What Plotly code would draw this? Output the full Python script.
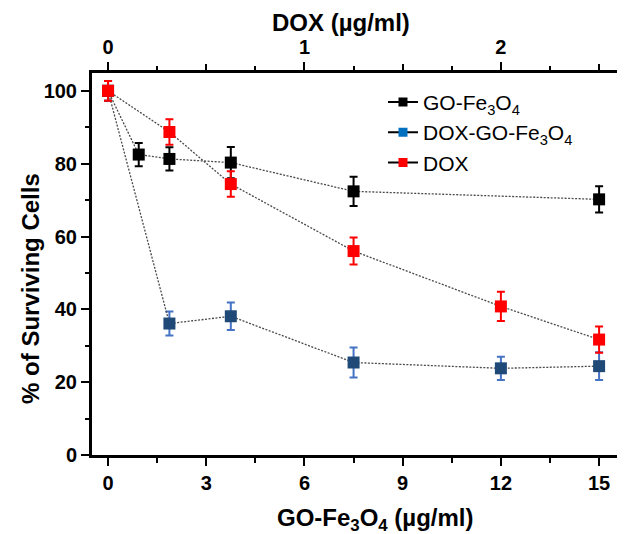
import plotly.graph_objects as go

# GO-Fe3O4 concentrations (µg/ml) and DOX concentrations (µg/ml)
go_conc_black = [0, 0.9375, 1.875, 3.75, 7.5, 15]
go_surv = [100, 82.5, 81.3, 80.3, 72.4, 70.2]
go_err = [2.7, 3.2, 3.2, 4.3, 4.0, 3.6]

go_conc_blue = [0, 1.875, 3.75, 7.5, 12, 15]
doxgo_surv = [100, 36.1, 38.1, 25.4, 23.8, 24.4]
doxgo_err = [2.7, 3.3, 3.8, 4.1, 3.2, 3.8]

dox_conc = [0, 0.3125, 0.625, 1.25, 2.0, 2.5]
dox_surv = [100, 88.7, 74.4, 56.0, 40.8, 31.7]
dox_err = [2.7, 3.5, 3.5, 3.7, 4.0, 3.6]

names = ["GO-Fe<sub>3</sub>O<sub>4</sub>", "DOX-GO-Fe<sub>3</sub>O<sub>4</sub>", "DOX"]
marker_colors = ["#000000", "#1f4a78", "#ff0000"]
err_colors = ["#000000", "#4472c4", "#ff0000"]
legend_colors = ["#000000", "#0070c0", "#ff0000"]

x_bottom_ticks = [0, 3, 6, 9, 12, 15]
x_top_ticks = [0, 1, 2]
x_top_half_ticks = [0.5, 1.5, 2.5]
y_ticks = [0, 20, 40, 60, 80, 100]
y_right_ticks = [10, 30, 50, 70, 90]

FONT = "Liberation Sans, Arial, sans-serif"
TICK_SIZE = 20
TITLE_SIZE = 24
line_style = dict(color="#4a4a4a", width=1.3, dash="2px,1.5px")

fig = go.Figure()

series = [
    (go_conc_black, go_surv, go_err, "x", 0),
    (go_conc_blue, doxgo_surv, doxgo_err, "x", 1),
    (dox_conc, dox_surv, dox_err, "x2", 2),
]
for xs, ys, es, xa, i in series:
    fig.add_trace(go.Scatter(
        x=xs, y=ys, xaxis=xa, yaxis="y", mode="lines+markers",
        line=line_style,
        marker=dict(symbol="square", size=12, color=marker_colors[i]),
        error_y=dict(type="data", array=es, visible=True, color=err_colors[i],
                     thickness=2, width=4),
        showlegend=False, hoverinfo="skip",
    ))

# legend entries
for i, n in enumerate(names):
    fig.add_trace(go.Scatter(
        x=[None], y=[None], xaxis="x", yaxis="y2", mode="lines+markers", name=n,
        line=dict(color="#000000", width=2),
        marker=dict(symbol="square", size=9, color=legend_colors[i]),
    ))
# anchor trace for the half-step top ticks
fig.add_trace(go.Scatter(x=[None], y=[None], xaxis="x3", yaxis="y",
                         showlegend=False, hoverinfo="skip"))

xr = [-0.49, 15.73]
yr = [0, 104.9]
tick_common = dict(ticks="outside", ticklen=8, tickwidth=2, tickcolor="black",
                   showgrid=False, zeroline=False)

fig.update_layout(
    width=617, height=526,
    margin=dict(l=84, r=2, t=65, b=79),
    paper_bgcolor="white", plot_bgcolor="white",
    font=dict(family=FONT, size=TICK_SIZE, color="#000000"),
    showlegend=True,
    legend=dict(x=0.548, y=0.977, xanchor="left", yanchor="top",
                bgcolor="rgba(0,0,0,0)", font=dict(size=21, family=FONT)),
    xaxis=dict(range=xr, tickmode="array", tickvals=x_bottom_ticks,
               ticktext=["<b>%d</b>" % v for v in x_bottom_ticks],
               showline=True, linewidth=3, linecolor="black",
               minor=dict(dtick=1.5, tick0=0, ticks="outside", ticklen=5,
                          tickwidth=2, tickcolor="black", showgrid=False),
               anchor="y", **tick_common),
    xaxis2=dict(range=[xr[0] / 6, xr[1] / 6], overlaying="x", side="top",
                anchor="y", tickmode="array", tickvals=x_top_ticks,
                ticktext=["<b>%d</b>" % v for v in x_top_ticks],
                showline=True, linewidth=3, linecolor="black",
                minor=dict(dtick=0.25, tick0=0, ticks="outside", ticklen=4,
                           tickwidth=2, tickcolor="black", showgrid=False),
                **tick_common),
    xaxis3=dict(range=[xr[0] / 6, xr[1] / 6], overlaying="x", side="top",
                anchor="y", tickmode="array", tickvals=x_top_half_ticks,
                showticklabels=False, showline=False, **tick_common),
    yaxis=dict(range=yr, tickmode="array", tickvals=y_ticks,
               ticktext=["<b>%d</b>" % v for v in y_ticks],
               showline=True, linewidth=3, linecolor="black",
               minor=dict(dtick=10, tick0=0, ticks="outside", ticklen=4,
                          tickwidth=2, tickcolor="black", showgrid=False),
               anchor="x", **tick_common),
    yaxis2=dict(range=yr, overlaying="y", side="right", anchor="x",
                tickmode="array", tickvals=y_right_ticks, showticklabels=False,
                ticks="inside", ticklen=5, tickwidth=2, tickcolor="black",
                showline=True, linewidth=1, linecolor="#c8c8c8", showgrid=False,
                zeroline=False),
)

fig.add_annotation(text="<b>DOX (µg/ml)</b>", xref="paper", yref="paper",
                   x=0.469, y=1.1335, showarrow=False,
                   font=dict(size=TITLE_SIZE, family=FONT), xanchor="center", yanchor="middle")
fig.add_annotation(text="<b>GO-Fe<sub>3</sub>O<sub>4</sub> (µg/ml)</b>", xref="paper", yref="paper",
                   x=0.533, y=-0.168, showarrow=False,
                   font=dict(size=TITLE_SIZE, family=FONT), xanchor="center", yanchor="middle")
fig.add_annotation(text="<b>% of Surviving Cells</b>", xref="paper", yref="paper",
                   x=-0.117, y=0.437, showarrow=False, textangle=-90,
                   font=dict(size=TITLE_SIZE, family=FONT), xanchor="center", yanchor="middle")

fig.write_html("out.html")
